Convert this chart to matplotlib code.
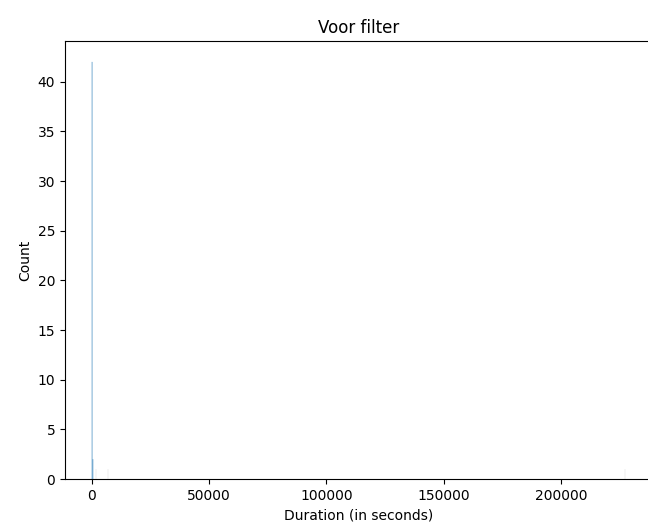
import matplotlib
matplotlib.use("Agg")
import matplotlib.pyplot as plt

# histogram bins (seconds)
bin_width = 340
bin_lefts = [0, 340, 1700, 6800, 227120]
counts = [42, 2, 1, 1, 1]

fig = plt.figure(figsize=(6.48, 5.30), dpi=100)
ax = fig.add_axes([0.1003, 0.0962, 0.906, 0.8264])

# seaborn-like bars: translucent fill, hair-thin dark edge
bars = ax.bar(bin_lefts, counts, width=bin_width, align="edge",
              facecolor=(0.122, 0.467, 0.706, 0.75), edgecolor="black", linewidth=0.05)
# the two tall bins near zero stay visible as sub-pixel slivers
for b in bars.patches[:2]:
    b.set_snap(False)
    b.set_edgecolor("none")

ax.set_title("Voor filter")
ax.set_xlabel("Duration (in seconds)")
ax.set_ylabel("Count")

fig.savefig("out.png", dpi=100)
